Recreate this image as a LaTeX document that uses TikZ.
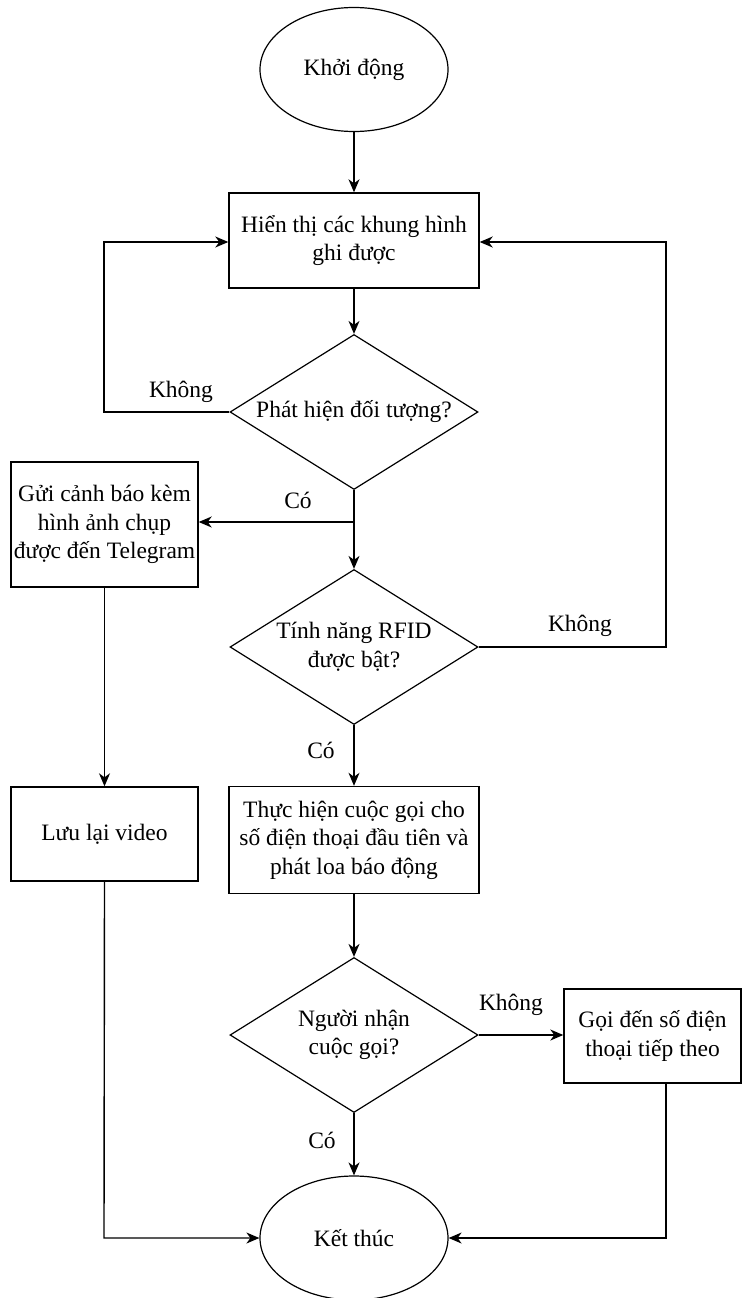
\documentclass[tikz,border=0pt]{standalone}
\usepackage{fontspec}
\setmainfont{Liberation Serif}
\usetikzlibrary{shapes.geometric,arrows.meta}
\begin{document}
\begin{tikzpicture}[x=1pt,y=-1pt,
  every node/.style={font=\fontsize{23.5}{28.5}\selectfont},
  arr/.style={line width=1.4pt,-{Stealth[length=13pt,width=11pt,inset=4pt]}},
  term/.style={ellipse,draw,line width=1.2pt,minimum width=188pt,minimum height=124pt,inner sep=0pt},
  proc/.style={rectangle,draw,line width=1.4pt,align=center,inner sep=0pt},
  dec/.style={diamond,draw,line width=1.2pt,minimum width=248pt,minimum height=155pt,inner sep=0pt},
  lbl/.style={inner sep=0pt,align=center}
]
\useasboundingbox (0,0) rectangle (743,1298);

\node[term] (start) at (354,69.5) {Khởi động};
\node[proc,minimum width=250pt,minimum height=95pt] (show) at (354,240.5) {Hiển thị các khung hình\\ghi được};
\node[dec,label={[lbl]center:Phát hiện đối tượng?}] (d1) at (354,412) {};
\node[proc,minimum width=187pt,minimum height=125pt] (tele) at (104.5,524.5) {Gửi cảnh báo kèm\\hình ảnh chụp\\được đến Telegram};
\node[dec,label={[lbl]center:Tính năng RFID\\được bật?}] (d2) at (354,647) {};
\node[proc,minimum width=250pt,minimum height=107pt] (call) at (354,840) {Thực hiện cuộc gọi cho\\số điện thoại đầu tiên và\\phát loa báo động};
\node[proc,minimum width=187pt,minimum height=94pt] (save) at (104.5,834) {Lưu lại video};
\node[dec,label={[lbl]center:Người nhận\\cuộc gọi?}] (d3) at (354,1035) {};
\node[proc,minimum width=177pt,minimum height=94pt] (next) at (652.5,1036) {Gọi đến số điện\\thoại tiếp theo};
\node[term] (end) at (354,1238) {Kết thúc};

\coordinate (j1) at (354,522);
\coordinate (lb1) at (104,412);
\coordinate (lt1) at (104,242);
\coordinate (rb1) at (666,647);
\coordinate (rt1) at (666,242);
\coordinate (sb) at (104,1238);
\coordinate (nb) at (666,1238);
\coordinate (nt) at (666,1083);

\draw[arr] (start) -- (show);
\draw[arr] (show) -- (d1);
\draw[arr] (d1.west) -- (lb1) -- (lt1) -- (show.west |- lt1);
\draw[arr] (d1.south) -- (d2.north);
\draw[arr] (j1) -- (tele.east |- j1);
\draw[arr] (d2.east) -- (rb1) -- (rt1) -- (show.east |- rt1);
\draw[arr] (d2.south) -- (call.north);
\draw[arr] (tele.south) -- (save.north);
\draw[arr] (call.south) -- (d3.north);
\draw[arr] (d3.east) -- (next.west |- d3.east);
\draw[arr] (d3.south) -- (end.north);
\draw[arr] (save.south) -- (sb) -- (end.west);
\draw[arr] (nt) -- (nb) -- (end.east);

\node[lbl] (k1) at (181,392) {Không};
\node[lbl] (c1) at (298,500) {Có};
\node[lbl] (k2) at (580,626) {Không};
\node[lbl] (c2) at (321,750) {Có};
\node[lbl] (k3) at (511,1005) {Không};
\node[lbl] (c3) at (322,1140) {Có};
\end{tikzpicture}
\end{document}
